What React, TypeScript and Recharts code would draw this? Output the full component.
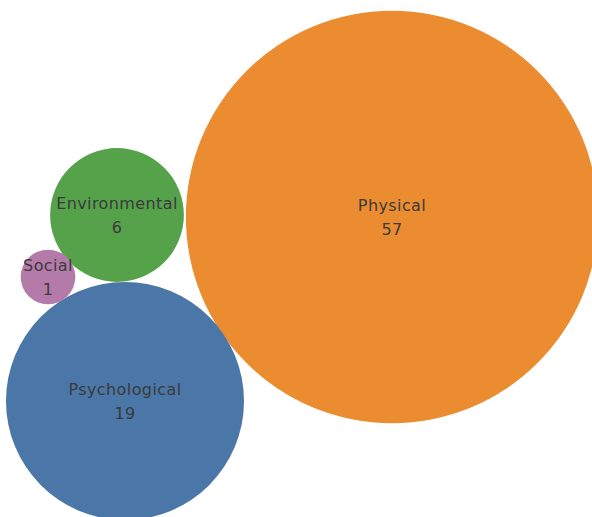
import React from "react";
import { Scatter, ScatterChart, XAxis, YAxis, ZAxis } from "recharts";

const W = 592;
const H = 517;

// Categories and their counts
const CATEGORIES = ["Physical", "Psychological", "Environmental", "Social"];
const COUNTS = [57, 19, 6, 1];

// Packed layout centres (chart units == px here, y grows downward)
const PACK_X = [392, 125, 117, 48];
const PACK_Y = [217, 401, 215, 277];

const COLORS = ["#EC8C30", "#4A77A8", "#56A24B", "#B47BAA"];

// bubble area grows linearly with the count
const MAX_COUNT = 57;
const MAX_AREA = 133500;

const data = CATEGORIES.map((name, i) => ({
  name,
  value: COUNTS[i],
  x: PACK_X[i],
  y: PACK_Y[i],
  color: COLORS[i],
}));

const LABEL = {
  fill: "#3a3a3a",
  fontSize: 16,
  fontFamily: "'DejaVu Sans', sans-serif",
  letterSpacing: 0.4,
};

function Bubble(props: any) {
  const { cx, cy, payload } = props;
  const size = props.size ?? Math.PI * Math.pow((props.width ?? 0) / 2, 2);
  const r = Math.sqrt(size / Math.PI);
  return (
    <g>
      <circle cx={cx} cy={cy} r={r} fill={payload.color} />
      <text x={cx} y={cy - 12} textAnchor="middle" dominantBaseline="central" {...LABEL}>
        {payload.name}
      </text>
      <text x={cx} y={cy + 12} textAnchor="middle" dominantBaseline="central" {...LABEL}>
        {payload.value}
      </text>
    </g>
  );
}

export default function App() {
  return (
    <div style={{ position: "absolute", left: 0, top: 0, background: "#fff" }}>
      <ScatterChart width={W} height={H} margin={{ top: 0, right: 0, bottom: 0, left: 0 }}>
        <XAxis type="number" dataKey="x" domain={[0, W]} hide />
        <YAxis type="number" dataKey="y" domain={[0, H]} reversed hide />
        <ZAxis type="number" dataKey="value" domain={[0, MAX_COUNT]} range={[0, MAX_AREA]} />
        <Scatter data={data} shape={Bubble} isAnimationActive={false} />
      </ScatterChart>
    </div>
  );
}
